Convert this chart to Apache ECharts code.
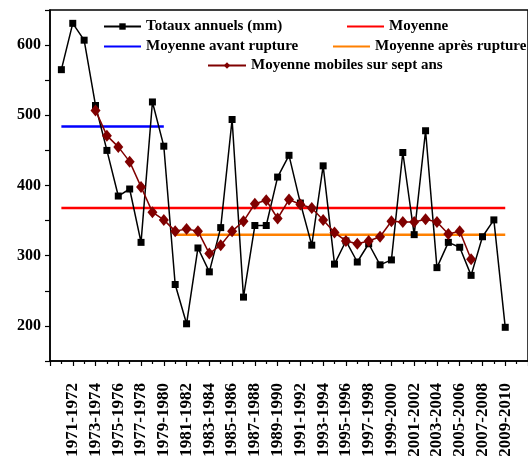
<!DOCTYPE html>
<html>
<head>
<meta charset="utf-8">
<script src="https://cdn.jsdelivr.net/npm/echarts@6/dist/echarts.min.js"></script>
<style>
html,body{margin:0;padding:0;background:#fff;}
#c{width:528px;height:466px;}
</style>
</head>
<body>
<div id="c"></div>
<script>
// Categories (hydrological years)
const categories = [
  '1970-1971','1971-1972','1972-1973','1973-1974','1974-1975','1975-1976','1976-1977','1977-1978',
  '1978-1979','1979-1980','1980-1981','1981-1982','1982-1983','1983-1984','1984-1985','1985-1986',
  '1986-1987','1987-1988','1988-1989','1989-1990','1990-1991','1991-1992','1992-1993','1993-1994',
  '1994-1995','1995-1996','1996-1997','1997-1998','1998-1999','1999-2000','2000-2001','2001-2002',
  '2002-2003','2003-2004','2004-2005','2005-2006','2006-2007','2007-2008','2008-2009','2009-2010'
];
// Annual totals (mm)
const totaux = [
  565, 631, 607, 514, 450, 385, 395, 319, 519, 456,
  259, 203, 311, 277, 340, 494, 241, 343, 343, 412,
  443, 375, 315, 428, 288, 321, 291, 317, 287, 294,
  447, 330, 478, 283, 319, 312, 272, 327, 351, 198
];
// 7-year moving average, starting at category index 4 (1-based)
const mobilesStart = 4;
const mobiles = [
  507, 471, 455, 434, 398, 362, 351, 335, 338, 335,
  303, 315, 335, 349, 374, 379, 353, 380, 373, 368,
  351, 333, 321, 317, 321, 327, 349, 348, 348, 352,
  348, 331, 335, 295
];
// Means and their spans (1-based category indices)
const moyenne = 368;          const moyenneSpan = [1, 40];
const moyenneAvant = 484;     const avantSpan = [1, 10];
const moyenneApres = 330;     const apresSpan = [11, 40];
const yTicks = [200, 300, 400, 500, 600];

const FONT = '"Liberation Serif","Times New Roman",serif';
const chart = echarts.init(document.getElementById('c'), null, {renderer: 'canvas'});

function span(v, s) { return [[s[0], v], [s[1], v]]; }

const legendText = {fontFamily: FONT, fontWeight: 'bold', fontSize: 15, color: '#000'};
function leg(name, left, top, w, hideSymbol) {
  const o = {
    data: [name], left: left, top: top, orient: 'horizontal',
    itemWidth: w, itemHeight: 8, itemGap: 0, padding: 0,
    textStyle: legendText, selectedMode: false
  };
  if (hideSymbol) o.itemStyle = {opacity: 0, borderWidth: 0};
  return o;
}

chart.setOption({
  animation: false,
  backgroundColor: '#fff',
  grid: {left: 50, top: 10, width: 482, height: 351, show: true,
         borderColor: '#000', borderWidth: 1.5, backgroundColor: 'transparent'},
  legend: [
    leg('Totaux annuels (mm)', 103, 19, 37, false),
    leg('Moyenne', 346, 19, 37, true),
    leg('Moyenne avant rupture', 103, 39, 37, true),
    leg('Moyenne après rupture', 332, 39, 37, true),
    leg('Moyenne mobiles sur sept ans', 207, 58, 38, false)
  ],
  xAxis: {
    type: 'value', min: 0, max: 42, interval: 2,
    axisLine: {show: true, lineStyle: {color: '#000', width: 1.5}},
    axisTick: {show: true, inside: false, length: 5, lineStyle: {color: '#000', width: 1.2}},
    minorTick: {show: true, splitNumber: 2, length: 3, lineStyle: {color: '#000', width: 1.2}},
    splitLine: {show: false},
    axisLabel: {
      rotate: 90, margin: 22, fontFamily: FONT, fontWeight: 'bold', fontSize: 17, color: '#000',
      showMinLabel: true, showMaxLabel: true, hideOverlap: false,
      formatter: function (v) { return (v >= 2 && v <= categories.length) ? categories[v - 1] : ''; }
    }
  },
  yAxis: {
    type: 'value', min: 150, max: 650, interval: 50,
    axisLine: {show: true, lineStyle: {color: '#000', width: 1.5}},
    axisTick: {show: true, inside: false, length: 5, lineStyle: {color: '#000', width: 1.2}},
    splitLine: {show: false},
    axisLabel: {
      margin: 9, fontFamily: FONT, fontWeight: 'bold', fontSize: 16, color: '#000',
      formatter: function (v) { return yTicks.indexOf(v) >= 0 ? String(v) : ''; }
    }
  },
  series: [
    {name: 'Moyenne', type: 'line', data: span(moyenne, moyenneSpan), symbol: 'none',
     lineStyle: {color: '#ff0000', width: 2.5}, itemStyle: {color: '#ff0000'}, z: 1},
    {name: 'Moyenne avant rupture', type: 'line', data: span(moyenneAvant, avantSpan), symbol: 'none',
     lineStyle: {color: '#0000ff', width: 2.5}, itemStyle: {color: '#0000ff'}, z: 1},
    {name: 'Moyenne après rupture', type: 'line', data: span(moyenneApres, apresSpan), symbol: 'none',
     lineStyle: {color: '#ff8000', width: 2.5}, itemStyle: {color: '#ff8000'}, z: 1},
    {name: 'Totaux annuels (mm)', type: 'line', data: totaux.map((v, i) => [i + 1, v]),
     symbol: 'rect', symbolSize: 7, showAllSymbol: true,
     lineStyle: {color: '#000', width: 1.5}, itemStyle: {color: '#000'}, z: 3},
    {name: 'Moyenne mobiles sur sept ans', type: 'line',
     data: mobiles.map((v, i) => [mobilesStart + i, v]),
     symbol: 'diamond', symbolSize: [10, 12], showAllSymbol: true,
     lineStyle: {color: '#800000', width: 1.5}, itemStyle: {color: '#800000'}, z: 4}
  ]
});
</script>
</body>
</html>
